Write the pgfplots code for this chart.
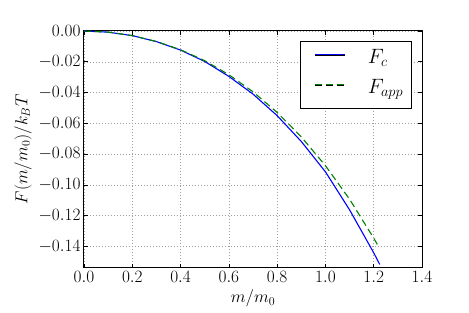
\documentclass[border=0pt]{standalone}
\usepackage{pgfplots}
\pgfplotsset{compat=1.18}
\definecolor{mplblue}{rgb}{0,0,1}
\definecolor{mplgreen}{rgb}{0,0.5,0}
\begin{document}
\begin{tikzpicture}
\path[use as bounding box] (0,0) rectangle (469pt,313pt);
\begin{axis}[
  at={(84pt,45pt)}, anchor=south west,
  scale only axis, width=338pt, height=237pt,
  xmin=0, xmax=1.4, ymin=-0.154, ymax=0,
  xtick={0,0.2,0.4,0.6,0.8,1.0,1.2,1.4},
  ytick={-0.14,-0.12,-0.10,-0.08,-0.06,-0.04,-0.02,0},
  scaled x ticks=false, scaled y ticks=false,
  xticklabel style={/pgf/number format/.cd, fixed, fixed zerofill, precision=1},
  yticklabel style={/pgf/number format/.cd, fixed, fixed zerofill, precision=2},
  tick label style={font=\fontsize{16.5}{18}\selectfont},
  label style={font=\fontsize{16.5}{18}\selectfont},
  xlabel={$m/m_0$}, ylabel={$F(m/m_0)/k_BT$},
  tick align=inside, major tick length=4pt,
  tick style={black, line width=0.6pt},
  axis line style={line width=1pt},
  grid=major, grid style={black!38, line width=0.5pt, dash pattern=on 1pt off 2pt},
  legend style={at={(0.9695,0.9565)}, anchor=north east, draw=none, fill=white,
    postaction={draw=black, line width=1pt},
    font=\fontsize{19.5}{22}\selectfont, inner xsep=8.4pt, inner ysep=9pt,
    row sep=11pt, column sep=22pt,
    nodes={inner sep=0pt, text height=13pt, text depth=6pt}},
  legend cell align=left,
  legend image code/.code={\path (0pt,0pt); \draw[#1] (6.3pt,5pt) -- (36.3pt,5pt);},
]
\addplot[color=mplblue, line width=1.1pt] coordinates {
(0,0) (0.1,-0.00075) (0.2,-0.0030) (0.3,-0.0069) (0.4,-0.0124) (0.5,-0.0198)
(0.6,-0.0295) (0.7,-0.0410) (0.8,-0.0550) (0.9,-0.0718) (1.0,-0.0915)
(1.1,-0.1162) (1.2,-0.1441) (1.225,-0.1517)};
\addlegendentry{$F_c$}
\addplot[color=mplgreen, line width=1.1pt, dash pattern=on 7pt off 4pt] coordinates {
(0,0) (0.1,-0.00074) (0.2,-0.0030) (0.3,-0.0068) (0.4,-0.0122) (0.5,-0.0193)
(0.6,-0.0284) (0.7,-0.0395) (0.8,-0.0529) (0.9,-0.0688) (1.0,-0.0875)
(1.1,-0.1093) (1.2,-0.1346) (1.218,-0.1395)};
\addlegendentry{$F_{app}$}
\end{axis}
\end{tikzpicture}
\end{document}
